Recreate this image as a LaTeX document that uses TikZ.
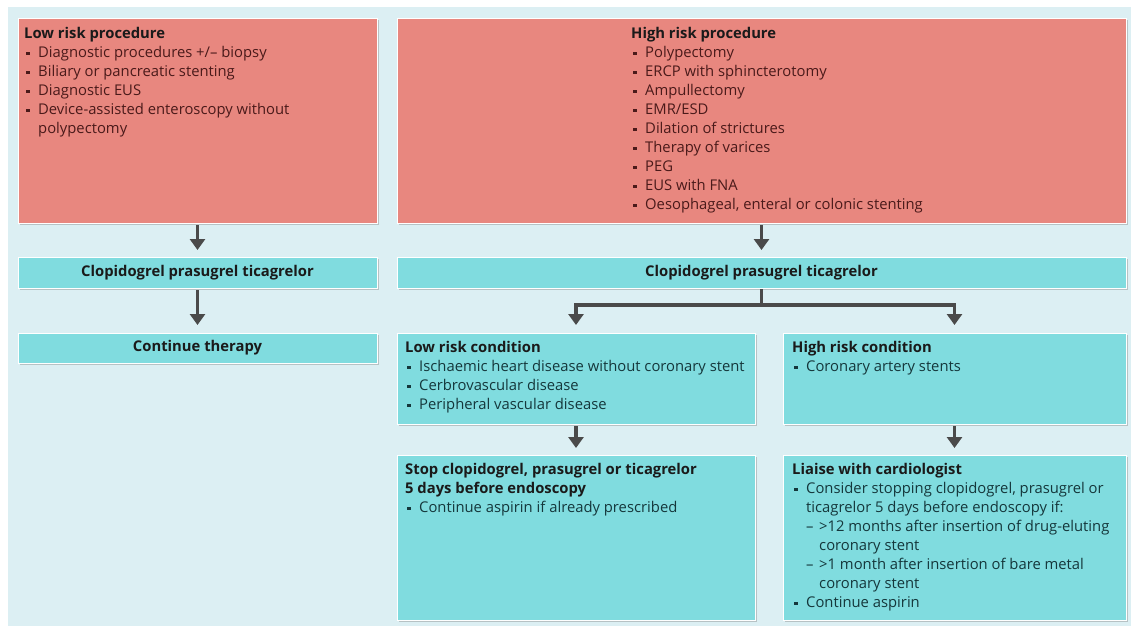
\documentclass[tikz,border=0pt]{standalone}
\usepackage{fontspec}
\setmainfont{Open Sans}
\usetikzlibrary{arrows.meta,shadows}

\definecolor{bgblue}{HTML}{DCEFF3}
\definecolor{procred}{HTML}{E8877F}
\definecolor{condteal}{HTML}{80DCDF}
\definecolor{arrowgrey}{HTML}{4A4A4A}
\definecolor{redtext}{HTML}{4A1A1A}
\definecolor{tealtext}{HTML}{15373B}
\definecolor{headtext}{HTML}{1A1A1A}

% list helpers
\newcommand{\sqbul}{\raisebox{2.8pt}{\rule{3.4pt}{3.4pt}}}
\newcommand{\itm}[1]{\makebox[14pt][l]{\hspace{2pt}\sqbul}#1}
\newcommand{\cnt}[1]{\hspace*{14pt}#1}
\newcommand{\dsh}[1]{\hspace*{14pt}\makebox[13pt][l]{–}#1}
\newcommand{\dcnt}[1]{\hspace*{27pt}#1}
\newcommand{\hd}[1]{\rule{0pt}{12pt}{\bfseries\color{headtext}#1}}

\tikzset{
  x=1pt, y=-1pt,
  box/.style={rectangle, anchor=north west, inner sep=0pt, outer sep=0pt,
    draw=white, line width=0.8pt,
    drop shadow={shadow xshift=1.6pt, shadow yshift=-1.6pt, fill=black!45, opacity=0.45}},
  procbox/.style={box, fill=procred},
  condbox/.style={box, fill=condteal},
  txt/.style={anchor=north west, inner sep=0pt, align=left,
    font=\fontsize{14.8}{19}\selectfont},
  redtxt/.style={txt, text=redtext},
  tealtxt/.style={txt, text=tealtext},
  ctrtxt/.style={anchor=center, inner sep=0pt, text=headtext,
    font=\fontsize{14.8}{19}\selectfont\bfseries},
  flow/.style={draw=arrowgrey, line width=3.4pt,
    -{Triangle[width=15pt,length=11pt]}},
  stem/.style={draw=arrowgrey, line width=3.4pt}
}

\begin{document}
\begin{tikzpicture}
\useasboundingbox (0,0) rectangle (1131,626);
\fill[bgblue] (8,7) rectangle (1131,626);

% procedure boxes
\node[procbox, minimum width=359pt, minimum height=205pt] (lp) at (18,18) {};
\node[procbox, minimum width=729pt, minimum height=205pt] (hp) at (397,18) {};

% drug boxes
\node[condbox, minimum width=359pt, minimum height=31pt] (lc) at (18,257) {};
\node[condbox, minimum width=729pt, minimum height=31pt] (hc) at (397,257) {};
\node[condbox, minimum width=359pt, minimum height=30pt] (ct) at (18,333) {};

% condition boxes
\node[condbox, minimum width=358pt, minimum height=91pt] (lrc) at (397,333) {};
\node[condbox, minimum width=343pt, minimum height=91pt] (hrc) at (783,333) {};

% action boxes
\node[condbox, minimum width=358pt, minimum height=165pt] (stp) at (397,455) {};
\node[condbox, minimum width=343pt, minimum height=165pt] (lia) at (783,455) {};

% texts
\node[redtxt] (lptext) at (24,26.5) {\hd{Low risk procedure}\\
\itm{Diagnostic procedures +/– biopsy}\\
\itm{Biliary or pancreatic stenting}\\
\itm{Diagnostic EUS}\\
\itm{Device-assisted enteroscopy without}\\
\cnt{polypectomy}};

\node[redtxt] (hptext) at (631,26.5) {\hd{High risk procedure}\\
\itm{Polypectomy}\\
\itm{ERCP with sphincterotomy}\\
\itm{Ampullectomy}\\
\itm{EMR/ESD}\\
\itm{Dilation of strictures}\\
\itm{Therapy of varices}\\
\itm{PEG}\\
\itm{EUS with FNA}\\
\itm{Oesophageal, enteral or colonic stenting}};

\node[ctrtxt] (lctext) at (lc.center) {Clopidogrel prasugrel ticagrelor};
\node[ctrtxt] (hctext) at (hc.center) {Clopidogrel prasugrel ticagrelor};
\node[ctrtxt] (cttext) at (ct.center) {Continue therapy};

\node[tealtxt] (lrctext) at (405,340.5) {\hd{Low risk condition}\\
\itm{Ischaemic heart disease without coronary stent}\\
\itm{Cerbrovascular disease}\\
\itm{Peripheral vascular disease}};

\node[tealtxt] (hrctext) at (792,340.5) {\hd{High risk condition}\\
\itm{Coronary artery stents}};

\node[tealtxt] (stptext) at (405,462.5) {\hd{Stop clopidogrel, prasugrel or ticagrelor}\\
\hd{5 days before endoscopy}\\
\itm{Continue aspirin if already prescribed}};

\node[tealtxt] (liatext) at (792,462.5) {\hd{Liaise with cardiologist}\\
\itm{Consider stopping clopidogrel, prasugrel or}\\
\cnt{ticagrelor 5 days before endoscopy if:}\\
\dsh{>12 months after insertion of drug-eluting}\\
\dcnt{coronary stent}\\
\dsh{>1 month after insertion of bare metal}\\
\dcnt{coronary stent}\\
\itm{Continue aspirin}};

% connectors
\draw[flow, shorten <=2pt, shorten >=7pt] (lp.south) -- (lc.north);
\draw[flow, shorten <=2pt, shorten >=8pt] (lc.south) -- (ct.north);
\draw[flow, shorten <=2pt, shorten >=7pt] (hp.south) -- (hc.north);
\draw[stem, shorten <=1pt] (hc.south) -- ++(0,17) coordinate (split);
\draw[flow, shorten >=8pt] (split) -| (lrc.north);
\draw[flow, shorten >=8pt] (split) -| (hrc.north);
\draw[flow, shorten <=2pt, shorten >=7pt] (lrc.south) -- (stp.north);
\draw[flow, shorten <=2pt, shorten >=7pt] (hrc.south) -- (lia.north);
\end{tikzpicture}
\end{document}
